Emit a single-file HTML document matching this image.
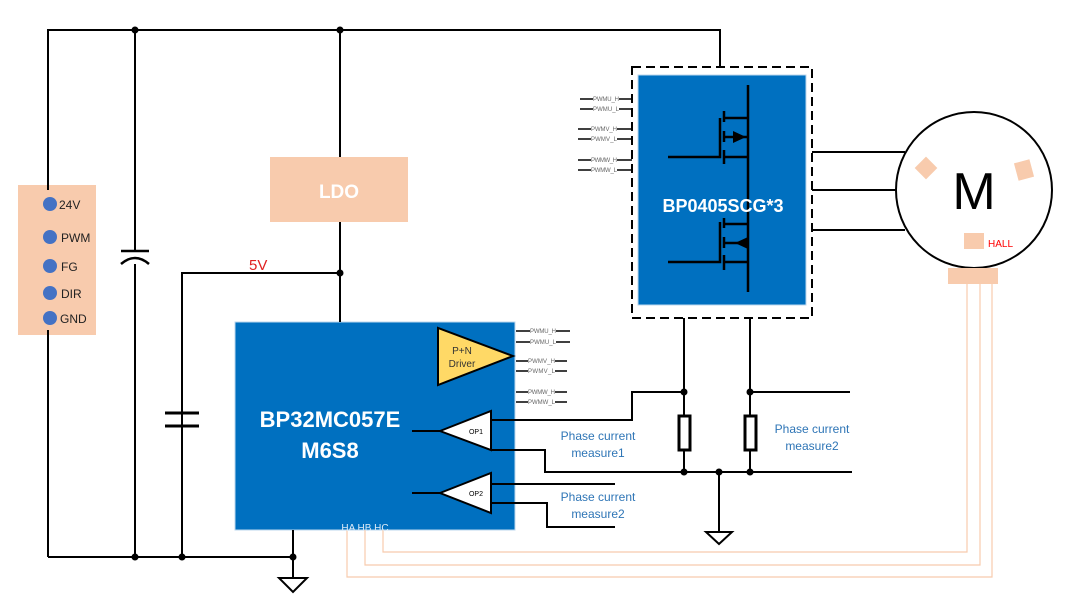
<!DOCTYPE html>
<html><head><meta charset="utf-8"><style>
body{margin:0;background:#fff}
svg{display:block}
text{font-family:"Liberation Sans",sans-serif}
</style></head><body>
<svg width="1080" height="605" viewBox="0 0 1080 605" xmlns="http://www.w3.org/2000/svg">
<!-- boxes first -->
<rect x="18" y="185" width="78" height="150" fill="#F8CBAD"/>
<rect x="270" y="157" width="138" height="65" fill="#F8CBAD"/>
<rect x="235" y="322" width="280" height="208" fill="#0070C0" stroke="#BDD7EE" stroke-width="1"/>
<g stroke="#000" stroke-width="2" fill="none">
<polyline points="48,557 48,30 720,30 720,66"/>
<line x1="135" y1="30" x2="135" y2="252"/>
<line x1="135" y1="264" x2="135" y2="557"/>
<line x1="340" y1="30" x2="340" y2="157"/>
<line x1="340" y1="222" x2="340" y2="322"/>
<polyline points="182,557 182,273 340,273"/>
<line x1="48" y1="557" x2="293" y2="557"/>
<line x1="293" y1="530" x2="293" y2="578"/>
<line x1="121" y1="251" x2="149" y2="251" stroke-width="2.5"/>
<path d="M121,264 Q135,252 149,264" stroke-width="2.5"/>
<line x1="182" y1="273" x2="182" y2="413"/>
<line x1="182" y1="427" x2="182" y2="557"/>
<line x1="165" y1="413" x2="199" y2="413" stroke-width="3"/>
<line x1="165" y1="426" x2="199" y2="426" stroke-width="3"/>
<polygon points="279,578 307,578 293,592"/>
<line x1="412" y1="431" x2="440" y2="431"/>
<line x1="412" y1="493" x2="440" y2="493"/>
<polyline points="491,420 632,420 632,392 684,392"/>
<line x1="750" y1="392" x2="850" y2="392"/>
<polyline points="491,450 545,450 545,472 852,472"/>
<line x1="491" y1="484" x2="615" y2="484"/>
<polyline points="491,503 547,503 547,527 615,527"/>
<line x1="684" y1="318" x2="684" y2="472"/>
<line x1="750" y1="318" x2="750" y2="472"/>
<line x1="719" y1="472" x2="719" y2="532"/>
<polygon points="706,532 732,532 719,544"/>
<line x1="812" y1="152" x2="905" y2="152"/>
<line x1="812" y1="190" x2="896" y2="190"/>
<line x1="812" y1="230" x2="905" y2="230"/>
<circle cx="974" cy="190" r="78"/>
</g>
<g fill="#000">
<circle cx="135" cy="30" r="3.5"/><circle cx="340" cy="30" r="3.5"/>
<circle cx="340" cy="273" r="3.5"/><circle cx="135" cy="557" r="3.5"/>
<circle cx="182" cy="557" r="3.5"/><circle cx="293" cy="557" r="3.5"/>
<circle cx="684" cy="392" r="3.5"/><circle cx="750" cy="392" r="3.5"/>
<circle cx="684" cy="472" r="3.5"/><circle cx="719" cy="472" r="3.5"/><circle cx="750" cy="472" r="3.5"/>
</g>
<rect x="679" y="416" width="11" height="34" fill="#fff" stroke="#000" stroke-width="3"/>
<rect x="745" y="416" width="11" height="34" fill="#fff" stroke="#000" stroke-width="3"/>
<g stroke="#F8CBAD" stroke-width="1.2" fill="none">
<polyline points="347,530 347,577 992,577 992,284"/>
<polyline points="365,530 365,565 980,565 980,284"/>
<polyline points="383,530 383,552 967,552 967,284"/>
</g>
<rect x="18" y="190" width="78" height="140" fill="#F8CBAD"/>
<g fill="#4472C4"><circle cx="50" cy="204" r="7"/><circle cx="50" cy="237" r="7"/><circle cx="50" cy="266" r="7"/><circle cx="50" cy="293" r="7"/><circle cx="50" cy="318" r="7"/></g>
<g font-size="12" fill="#222"><text x="59" y="209">24V</text><text x="61" y="242">PWM</text><text x="61" y="271">FG</text><text x="61" y="298">DIR</text><text x="60" y="323">GND</text></g>
<text x="339" y="198" font-size="19" fill="#fff" text-anchor="middle" font-weight="bold">LDO</text>
<text x="249" y="270" font-size="15" fill="#E02020">5V</text>
<polygon points="438,328 438,385 513,356" fill="#FFD966" stroke="#000" stroke-width="2"/>
<text x="462" y="354" font-size="10" fill="#333" text-anchor="middle">P+N</text>
<text x="462" y="367" font-size="10" fill="#333" text-anchor="middle">Driver</text>
<polygon points="440,431 491,411 491,450" fill="#fff" stroke="#000" stroke-width="2"/>
<text x="476" y="434" font-size="7" text-anchor="middle">OP1</text>
<polygon points="440,493 491,473 491,513" fill="#fff" stroke="#000" stroke-width="2"/>
<text x="476" y="496" font-size="7" text-anchor="middle">OP2</text>
<text x="330" y="427" font-size="22" font-weight="bold" fill="#fff" text-anchor="middle">BP32MC057E</text>
<text x="330" y="458" font-size="22" font-weight="bold" fill="#fff" text-anchor="middle">M6S8</text>
<text x="365" y="531" font-size="10" fill="#DDEBF7" text-anchor="middle">HA HB HC</text>
<g stroke="#000" stroke-width="1.5">
<line x1="516" y1="331" x2="530" y2="331"/><line x1="556" y1="331" x2="570" y2="331"/>
<line x1="516" y1="342" x2="530" y2="342"/><line x1="556" y1="342" x2="570" y2="342"/>
<line x1="516" y1="361" x2="528" y2="361"/><line x1="555" y1="361" x2="567" y2="361"/>
<line x1="516" y1="371" x2="528" y2="371"/><line x1="555" y1="371" x2="567" y2="371"/>
<line x1="516" y1="392" x2="528" y2="392"/><line x1="555" y1="392" x2="567" y2="392"/>
<line x1="516" y1="402" x2="528" y2="402"/><line x1="555" y1="402" x2="567" y2="402"/>
</g>
<g font-size="6" fill="#666">
<text x="530" y="333" textLength="26">PWMU_H</text><text x="530" y="344" textLength="26">PWMU_L</text>
<text x="528" y="363" textLength="27">PWMV_H</text><text x="528" y="373" textLength="27">PWMV_L</text>
<text x="528" y="394" textLength="27">PWMW_H</text><text x="528" y="404" textLength="27">PWMW_L</text>
</g>
<g font-size="12" fill="#2E75B6" text-anchor="middle">
<text x="598" y="440">Phase current</text><text x="598" y="457">measure1</text>
<text x="812" y="433">Phase current</text><text x="812" y="450">measure2</text>
<text x="598" y="501">Phase current</text><text x="598" y="518">measure2</text>
</g>
<rect x="632" y="67" width="180" height="251" fill="none" stroke="#000" stroke-width="2" stroke-dasharray="9,5"/>
<rect x="638" y="75" width="168" height="230" fill="#0070C0" stroke="#BDD7EE"/>
<g stroke="#000" stroke-width="2.5" fill="none">
<line x1="748" y1="85" x2="748" y2="292"/>
<polyline points="668,157 720,157 720,118"/>
<line x1="724" y1="111" x2="724" y2="122"/><line x1="724" y1="131" x2="724" y2="142"/><line x1="724" y1="150" x2="724" y2="164"/>
<line x1="724" y1="118" x2="748" y2="118"/><line x1="724" y1="137" x2="748" y2="137"/><line x1="724" y1="157" x2="748" y2="157"/>
<polyline points="668,262 720,262 720,222"/>
<line x1="724" y1="218" x2="724" y2="228"/><line x1="724" y1="237" x2="724" y2="248"/><line x1="724" y1="255" x2="724" y2="270"/>
<line x1="724" y1="224" x2="748" y2="224"/><line x1="724" y1="243" x2="748" y2="243"/><line x1="724" y1="262" x2="748" y2="262"/>
</g>
<polygon points="733,131 746,137 733,143" fill="#000"/>
<polygon points="748,237 735,243 748,249" fill="#000"/>
<text x="723" y="212" font-size="18" font-weight="bold" fill="#fff" text-anchor="middle">BP0405SCG*3</text>
<g stroke="#000" stroke-width="1.5" fill="none">
<line x1="580" y1="99" x2="593" y2="99"/><line x1="580" y1="109" x2="593" y2="109"/>
<line x1="578" y1="129" x2="591" y2="129"/><line x1="578" y1="139" x2="591" y2="139"/>
<line x1="578" y1="160" x2="591" y2="160"/><line x1="578" y1="170" x2="591" y2="170"/>
<line x1="619" y1="99" x2="632" y2="99"/><line x1="619" y1="109" x2="632" y2="109"/><line x1="617" y1="129" x2="632" y2="129"/><line x1="617" y1="139" x2="632" y2="139"/><line x1="617" y1="160" x2="632" y2="160"/><line x1="617" y1="170" x2="632" y2="170"/>
</g>
<g font-size="6" fill="#666">
<text x="593" y="101" textLength="26">PWMU_H</text><text x="593" y="111" textLength="26">PWMU_L</text>
<text x="591" y="131" textLength="26">PWMV_H</text><text x="591" y="141" textLength="26">PWMV_L</text>
<text x="591" y="162" textLength="26">PWMW_H</text><text x="591" y="172" textLength="26">PWMW_L</text>
</g>
<rect x="918" y="160" width="16" height="16" fill="#F8CBAD" transform="rotate(45 926 168)"/>
<rect x="1016" y="161" width="16" height="18" fill="#F8CBAD" transform="rotate(-15 1024 170)"/>
<rect x="964" y="233" width="20" height="16" fill="#F8CBAD"/>
<text x="988" y="247" font-size="10" fill="#FF0000">HALL</text>
<text x="974" y="209" font-size="52" fill="#000" text-anchor="middle">M</text>
<rect x="948" y="268" width="50" height="16" fill="#F8CBAD"/>
</svg>
</body></html>
